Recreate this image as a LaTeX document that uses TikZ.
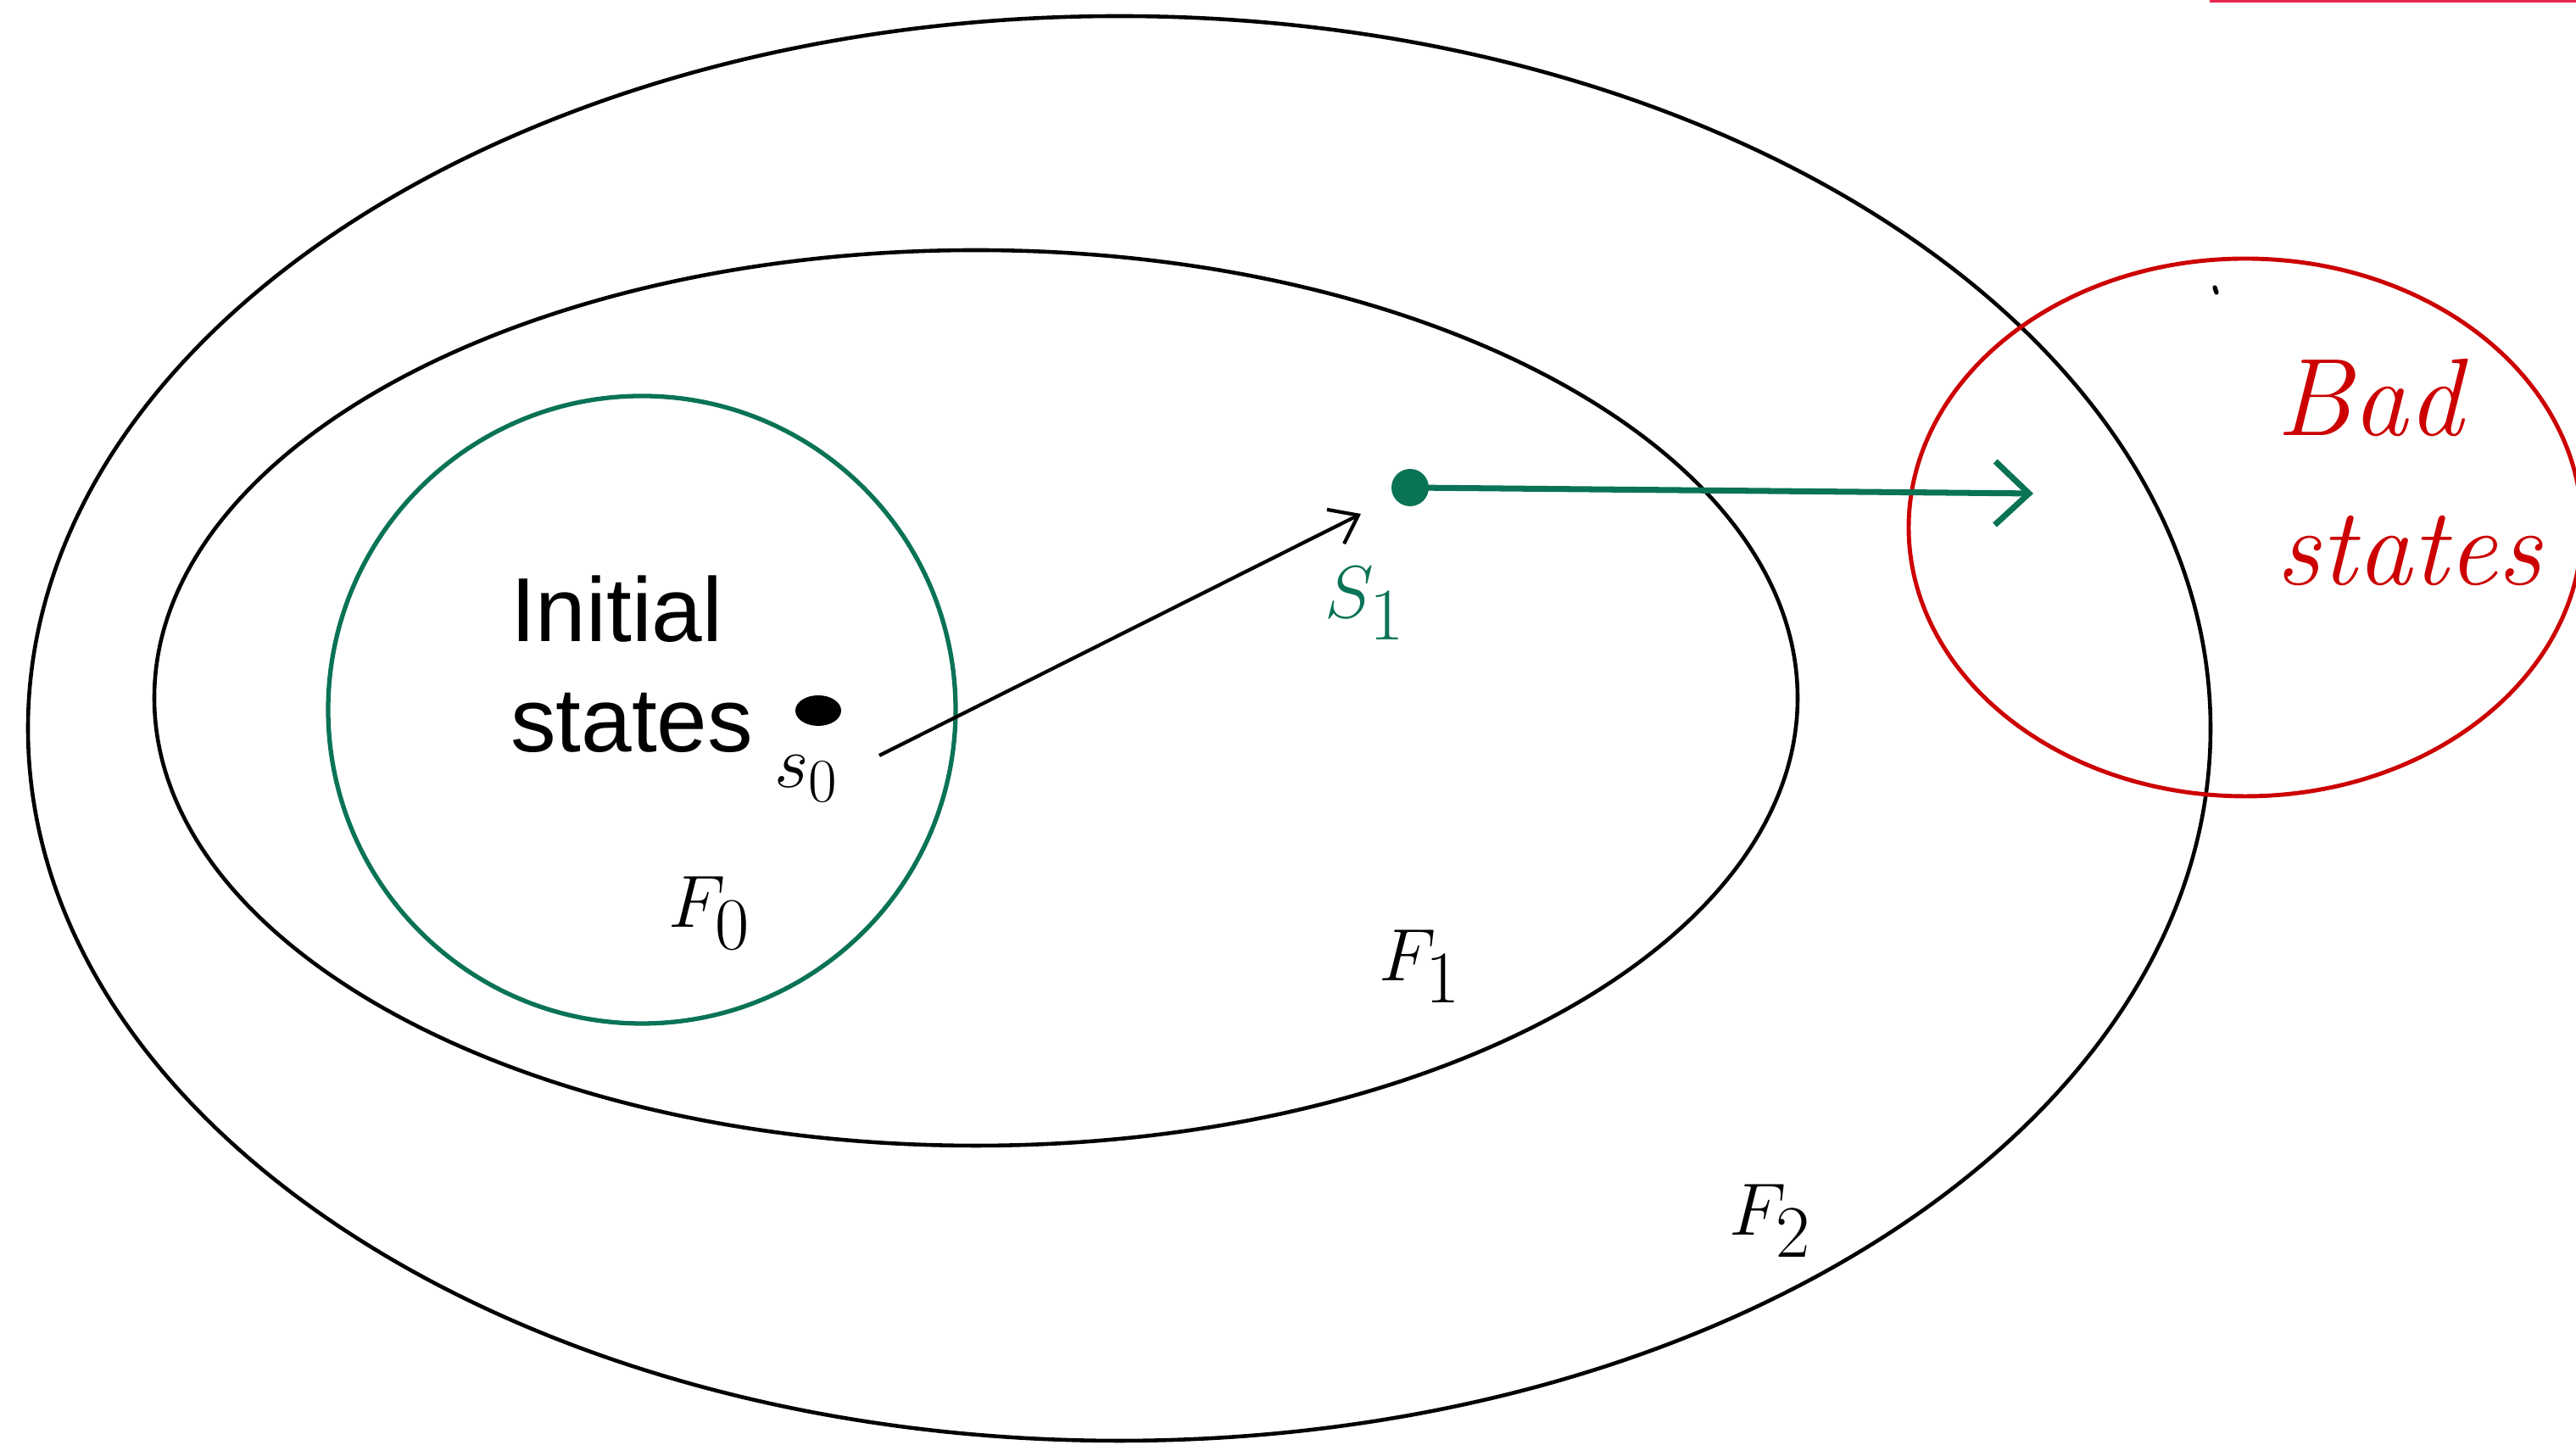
\documentclass[tikz,border=0pt]{standalone}
\usepackage{fontspec}
\usepackage{tikz}
\usetikzlibrary{positioning, arrows.meta}
\setsansfont{Liberation Sans}
\definecolor{stategreen}{HTML}{0A7356}
\definecolor{badred}{HTML}{CC0000}
\definecolor{barred}{HTML}{E8254F}

\tikzset{
  setline/.style={draw=black, line width=1.3pt},
  hand/.style={font=\fontsize{44}{52}\selectfont, inner sep=0pt}
}

\begin{document}
\begin{tikzpicture}
  \useasboundingbox (0,0) rectangle (30.38,17.04);
  \fill[barred] (26.06,17.01) rectangle (30.38,17.04);

  % the three frontiers and the bad states
  \draw[setline] (13.20,8.45) ellipse [x radius=12.87, y radius=8.40];
  \draw[setline] (11.51,8.81) ellipse [x radius=9.69, y radius=5.28];
  \draw[stategreen, line width=1.5pt] (7.57,8.67) circle [radius=3.70];
  \draw[badred, line width=1.4pt] (26.48,10.82) ellipse [x radius=3.97, y radius=3.17];
  \draw[line width=1.5pt, line cap=round] (26.12,13.65) -- (26.14,13.59);

  \node[font=\sffamily\fontsize{30.5}{37}\selectfont, align=left, inner sep=0pt]
    (init) at (7.45,9.21) {Initial\\states};

  \fill[black] (9.65,8.66) ellipse [x radius=0.27, y radius=0.18];
  \coordinate (s0) at (9.65,8.66);
  \node[hand, font=\fontsize{32}{38}\selectfont] (s0label) at (9.51,7.86) {$s_0$};

  \fill[stategreen] (16.63,11.29) circle [radius=0.22];
  \coordinate (s1) at (16.63,11.29);
  \node[hand, text=stategreen, font=\fontsize{52}{60}\selectfont] (s1label) at (16.10,9.92) {$S_1$};

  \node[hand] (f0) at (8.37,6.27) {$F_0$};
  \node[hand] (f1) at (16.75,5.64) {$F_1$};
  \node[hand] (f2) at (20.88,2.64) {$F_2$};

  \node[hand, text=badred, font=\itshape\fontsize{37}{50}\selectfont, align=left]
    (bad) at (28.41,11.47) {Bad\\states};

  % transitions
  \coordinate (stepfrom) at (10.37,8.13);
  \coordinate (stepto) at (16.05,10.98);
  \coordinate (badtip) at (23.98,11.22);
  \draw[line width=1.2pt, -{Straight Barb[length=0.3cm, width=0.45cm]}] (stepfrom) -- (stepto);
  \draw[stategreen, line width=2pt, -{Straight Barb[length=0.4cm, width=0.75cm]}] (s1) -- (badtip);
\end{tikzpicture}
\end{document}
